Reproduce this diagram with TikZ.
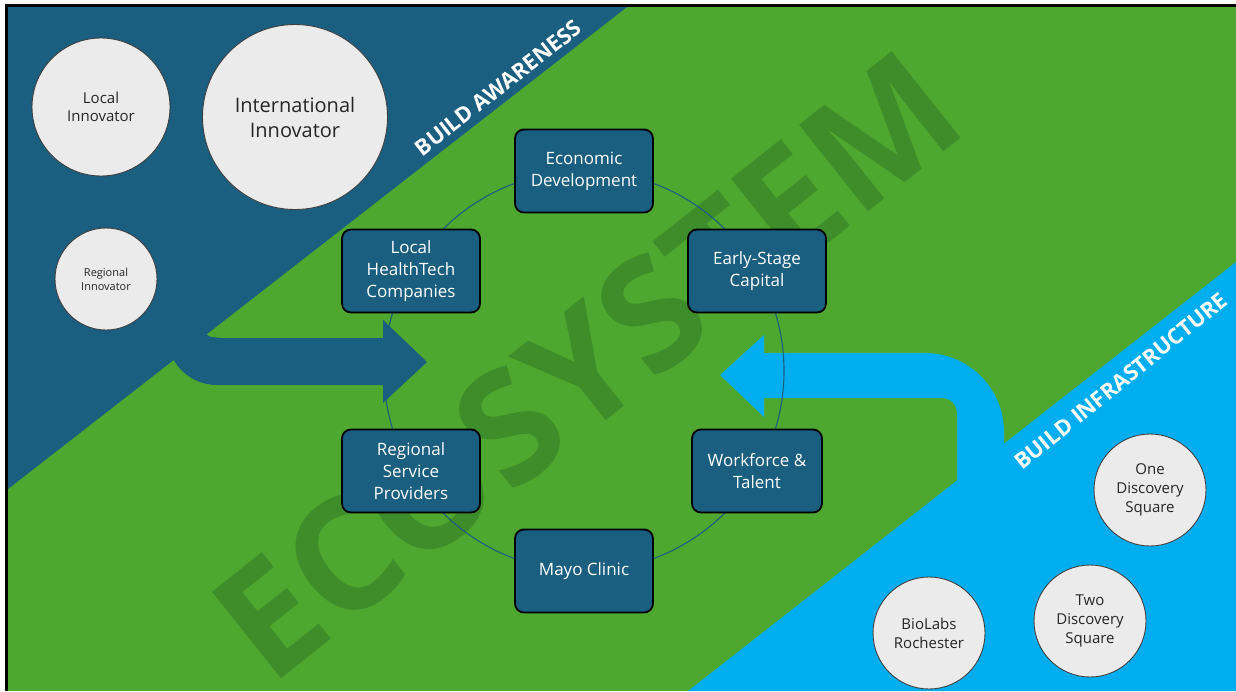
\documentclass[tikz,border=0pt]{standalone}
\usepackage{fontspec}
\setmainfont{Open Sans}
\usetikzlibrary{positioning,calc}

\definecolor{deepblue}{HTML}{1A5E80}
\definecolor{grass}{HTML}{4EA72E}
\definecolor{skyblue}{HTML}{00AEEF}
\definecolor{markgreen}{HTML}{3E8D2B}
\definecolor{bubblegrey}{HTML}{EBEBEB}

\begin{document}
\begin{tikzpicture}[x=1pt,y=1pt]
                    \tikzstyle{box}=[draw=black,line width=1.8,fill=deepblue,rounded corners=9,minimum width=138,minimum height=83,inner sep=0,align=center,text=white,font=\fontsize{17}{22}\selectfont]
                    \tikzstyle{bubble}=[draw=black!75,line width=0.9,fill=bubblegrey,circle,inner sep=0,align=center,text=black!85]
                    \tikzstyle{banner}=[text=white,inner sep=0,font=\bfseries\fontsize{22}{22}\selectfont]
                    \tikzstyle{watermark}=[text=markgreen,inner sep=0,font=\bfseries\fontsize{155}{155}\selectfont]
                    {
                        \useasboundingbox (0,0) rectangle (1236,-691);
                        \fill[white] (0,0) rectangle (1236,-691);
                        \fill[black] (5,-4) rectangle (1236,-691);
                        \fill[grass] (8,-7) rectangle (1236,-691);

                        \fill[deepblue] (8,-7) -- (627,-7) -- (8,-489) -- cycle;
                        \fill[deepblue] (190,-320) -- (203,-330) .. controls (208,-337) .. (222,-338) -- (383,-338)
                            -- (383,-320) -- (427,-362) -- (383,-403)
                            -- (383,-385) -- (217,-385) arc (270:180:50) -- cycle;

                        \fill[skyblue] (688,-691) -- (1236,-262) -- (1236,-691) -- cycle;
                        \fill[skyblue] (957,-500) -- (957,-413) arc (0:90:15) -- (764,-398) -- (764,-417)
                            -- (720,-375) -- (764,-335) -- (764,-353) -- (925,-353) arc (90:0:79) -- (1004,-500) -- cycle;

                        \node[watermark,rotate=38.5] (eco) at (587,-365) {ECOSYSTEM};

                        \coordinate (ctr) at (584,-371);
                        \draw[deepblue,line width=1.1] (ctr) circle (200);

                        \node[box] (econ) at (584,-171) {Economic\\Development};
                        \node[box] (cap) at (757,-271) {Early-Stage\\Capital};
                        \node[box,minimum width=130] (work) at (757,-471) {Workforce \&\\Talent};
                        \node[box] (mayo) at (584,-571) {Mayo Clinic};
                        \node[box] (serv) at (411,-471) {Regional\\Service\\Providers};
                        \node[box] (tech) at (411,-271) {Local\\HealthTech\\Companies};

                        \node[bubble,minimum size=138,font=\fontsize{15}{18}\selectfont] (local) at (101,-107) {Local\\Innovator};
                        \node[bubble,minimum size=185,font=\fontsize{20}{25}\selectfont] (intl) at (295,-117) {International\\Innovator};
                        \node[bubble,minimum size=102,font=\fontsize{11}{14}\selectfont] (reg) at (106,-279) {Regional\\Innovator};

                        \node[bubble,minimum size=112,font=\fontsize{15}{19}\selectfont] (one) at (1150,-490) {One\\Discovery\\Square};
                        \node[bubble,minimum size=112,font=\fontsize{15}{19}\selectfont] (two) at (1090,-621) {Two\\Discovery\\Square};
                        \node[bubble,minimum size=112,font=\fontsize{15}{19}\selectfont] (bio) at (929,-633) {BioLabs\\Rochester};

                        \node[banner,rotate=38] (aware) at (498,-88) {BUILD AWARENESS};
                        \node[banner,rotate=39] (infra) at (1121,-381) {BUILD INFRASTRUCTURE};
                    }
\end{tikzpicture}
\end{document}
